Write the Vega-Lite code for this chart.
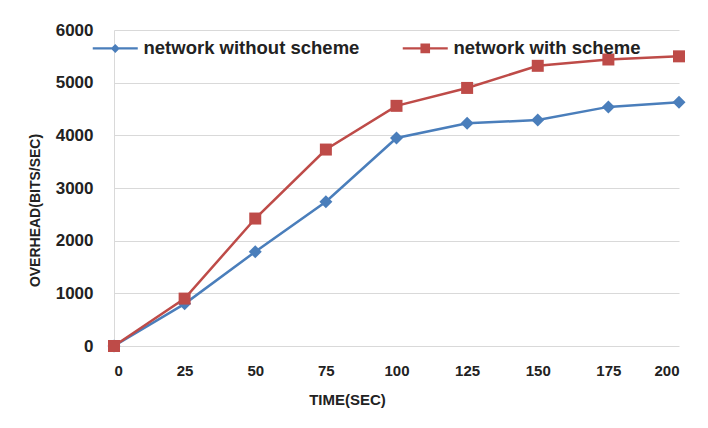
{
  "$schema": "https://vega.github.io/schema/vega-lite/v6.json",
  "autosize": "none",
  "width": 565,
  "height": 316,
  "padding": {"left": 114, "top": 30, "right": 29, "bottom": 82},
  "background": "white",
  "config": {
    "view": {"stroke": null},
    "font": "Liberation Sans"
  },
  "data": {
    "values": [
      {"t": 0, "v": 0, "series": "network without scheme"},
      {"t": 25, "v": 800, "series": "network without scheme"},
      {"t": 50, "v": 1790, "series": "network without scheme"},
      {"t": 75, "v": 2740, "series": "network without scheme"},
      {"t": 100, "v": 3950, "series": "network without scheme"},
      {"t": 125, "v": 4230, "series": "network without scheme"},
      {"t": 150, "v": 4290, "series": "network without scheme"},
      {"t": 175, "v": 4540, "series": "network without scheme"},
      {"t": 200, "v": 4630, "series": "network without scheme"},
      {"t": 0, "v": 0, "series": "network with scheme"},
      {"t": 25, "v": 900, "series": "network with scheme"},
      {"t": 50, "v": 2420, "series": "network with scheme"},
      {"t": 75, "v": 3730, "series": "network with scheme"},
      {"t": 100, "v": 4560, "series": "network with scheme"},
      {"t": 125, "v": 4900, "series": "network with scheme"},
      {"t": 150, "v": 5320, "series": "network with scheme"},
      {"t": 175, "v": 5440, "series": "network with scheme"},
      {"t": 200, "v": 5500, "series": "network with scheme"}
    ]
  },
  "encoding": {
    "x": {
      "field": "t",
      "type": "quantitative",
      "scale": {"domain": [0, 200], "nice": false, "zero": false},
      "axis": {
        "values": [0, 25, 50, 75, 100, 125, 150, 175, 200],
        "format": "d",
        "grid": false,
        "ticks": false,
        "domain": false,
        "labelFont": "Liberation Sans",
        "labelFontWeight": "bold",
        "labelFontSize": 15,
        "labelColor": "#222222",
        "labelPadding": 17,
        "title": "TIME(SEC)",
        "titleFont": "Liberation Sans",
        "titleFontWeight": "bold",
        "titleFontSize": 15,
        "titleColor": "#222222",
        "titleX": 233,
        "titleAlign": "center",
        "titlePadding": 14
      }
    },
    "y": {
      "field": "v",
      "type": "quantitative",
      "scale": {"domain": [0, 6000], "nice": false},
      "axis": {
        "values": [0, 1000, 2000, 3000, 4000, 5000, 6000],
        "format": "d",
        "grid": true,
        "gridColor": "#d9d9d9",
        "gridWidth": 1,
        "ticks": false,
        "domain": true,
        "domainColor": "#d9d9d9",
        "labelFont": "Liberation Sans",
        "labelFontWeight": "bold",
        "labelFontSize": 17,
        "labelColor": "#222222",
        "labelPadding": 21,
        "title": "OVERHEAD(BITS/SEC)",
        "titleFont": "Liberation Sans",
        "titleFontWeight": "bold",
        "titleFontSize": 14,
        "titleColor": "#222222",
        "titleY": 180,
        "titlePadding": 13
      }
    },
    "color": {
      "field": "series",
      "type": "nominal",
      "scale": {
        "domain": ["network without scheme", "network with scheme"],
        "range": ["#4a7ebb", "#be4b48"]
      },
      "legend": {
        "title": null,
        "orient": "none",
        "direction": "horizontal",
        "legendX": -8,
        "legendY": 9,
        "symbolSize": 144,
        "symbolStrokeWidth": 0,
        "symbolOpacity": 1,
        "symbolType": {"expr": "datum.value === 'network without scheme' ? 'M-3.75,-0.2H3.75V0.2H-3.75Z M-0.75,0L0,-0.75L0.75,0L0,0.75Z' : 'M-3.75,-0.2H3.75V0.2H-3.75Z M-0.8,-0.8H0.8V0.8H-0.8Z'"},
        "labelFont": "Liberation Sans",
        "labelFontWeight": "bold",
        "labelFontSize": 18.5,
        "labelLimit": 0,
        "labelColor": "#222222",
        "labelOffset": 19,
        "columnPadding": 42
      }
    }
  },
  "layer": [
    {
      "mark": {"type": "line", "strokeWidth": 2.5}
    },
    {
      "transform": [{"filter": "datum.series === 'network without scheme'"}],
      "mark": {"type": "point", "filled": true, "opacity": 1, "size": 169, "shape": "diamond"}
    },
    {
      "transform": [{"filter": "datum.series === 'network with scheme'"}],
      "mark": {"type": "point", "filled": true, "opacity": 1, "size": 144, "shape": "square"}
    }
  ]
}
